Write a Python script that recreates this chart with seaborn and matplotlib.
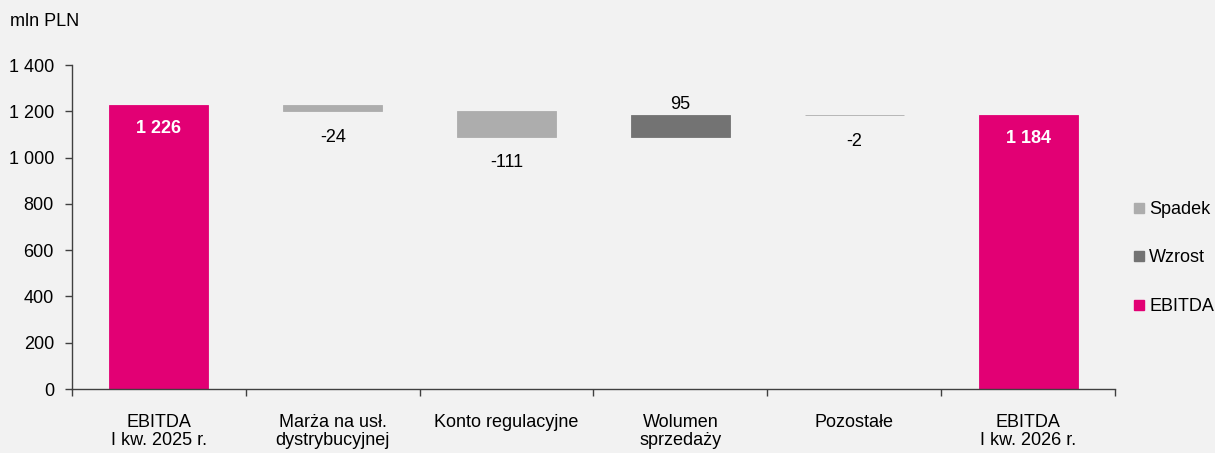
import numpy as np
import pandas as pd
import matplotlib
matplotlib.use("Agg")
import matplotlib.pyplot as plt
import seaborn as sns
from matplotlib.lines import Line2D
from matplotlib.ticker import FuncFormatter

# dane z wykresu (mln PLN)
kategorie = ["EBITDA\nI kw. 2025 r.", "Marża na usł.\ndystrybucyjnej", "Konto regulacyjne",
             "Wolumen\nsprzedaży", "Pozostałe", "EBITDA\nI kw. 2026 r."]
zmiany = [1226, -24, -111, 95, -2, 1184]
czy_suma = [True, False, False, False, False, True]

serie = ["Spadek", "Wzrost", "EBITDA"]
kolory = {"Spadek": "#adadad", "Wzrost": "#737373", "EBITDA": "#e20074"}

# podstawy i wysokości słupków (wodospad)
bazy, wysokosci, typy = [], [], []
narastajaco = 0
for z, s in zip(zmiany, czy_suma):
    if s:
        bazy.append(0)
        wysokosci.append(z)
        typy.append("EBITDA")
        narastajaco = z
    else:
        nowa = narastajaco + z
        bazy.append(min(narastajaco, nowa))
        wysokosci.append(abs(z))
        typy.append("Spadek" if z < 0 else "Wzrost")
        narastajaco = nowa

df = pd.DataFrame({"kat": kategorie, "wys": wysokosci, "baza": bazy, "typ": typy, "zmiana": zmiany})

sns.set_theme(style="white")
plt.rcParams["font.family"] = ["Liberation Sans", "DejaVu Sans"]
plt.rcParams["font.size"] = 13
plt.rcParams["text.color"] = "black"
plt.rcParams["xtick.color"] = "black"
plt.rcParams["ytick.color"] = "black"

tlo = "#f2f2f2"
fig = plt.figure(figsize=(12.15, 4.53), dpi=100, facecolor=tlo)
ax = fig.add_axes([72 / 1215, 64 / 453, (1115 - 72) / 1215, 324 / 453])
ax.set_facecolor(tlo)

for t in serie:
    sub = df[df["typ"] == t]
    sns.barplot(data=sub, x="kat", y="wys", order=kategorie, bottom=sub["baza"].values,
                color=kolory[t], edgecolor=kolory[t], linewidth=0.6, width=0.57,
                errorbar=None, saturation=1, ax=ax)

# etykiety wartości
def fmt(v):
    return f"{v:,.0f}".replace(",", " ")

for i, r in df.iterrows():
    if r["typ"] == "EBITDA":
        ax.annotate(fmt(r["zmiana"]), (i, r["baza"] + r["wys"]), xytext=(0, -17),
                    textcoords="offset points", ha="center", va="center",
                    color="white", fontweight="bold", fontsize=13)
    elif r["zmiana"] < 0:
        ax.annotate(fmt(r["zmiana"]), (i, r["baza"]), xytext=(0, -19),
                    textcoords="offset points", ha="center", va="center",
                    color="black", fontsize=13)
    else:
        ax.annotate(fmt(r["zmiana"]), (i, r["baza"] + r["wys"]), xytext=(0, 1),
                    textcoords="offset points", ha="center", va="bottom",
                    color="black", fontsize=13)

ax.set_xlim(-0.5, len(kategorie) - 0.5)
ax.set_ylim(0, 1400)
ax.set_yticks(np.arange(0, 1401, 200))
ax.yaxis.set_major_formatter(FuncFormatter(lambda v, p: fmt(v)))
ax.set_xlabel("")
ax.set_ylabel("")

for s in ["top", "right"]:
    ax.spines[s].set_visible(False)
for s in ["left", "bottom"]:
    ax.spines[s].set_color("#404040")
    ax.spines[s].set_linewidth(1)

ax.set_xticks(np.arange(-0.5, len(kategorie), 1), minor=True)
ax.tick_params(axis="x", which="major", length=0, pad=18, labelsize=13, labelcolor="black")
ax.tick_params(axis="x", which="minor", length=5, width=1, color="#404040", direction="out", bottom=True)
ax.tick_params(axis="y", which="major", length=5, width=1, color="#404040", direction="out",
               left=True, pad=8, labelsize=13, labelcolor="black")
for lab in ax.get_xticklabels():
    lab.set_linespacing(1.1)

fig.text(10 / 1215, 1 - 22 / 453, "mln PLN", ha="left", va="center", fontsize=13, color="black")

uchwyty = [Line2D([], [], marker="s", linestyle="none", markersize=7.5,
                  markerfacecolor=kolory[t], markeredgecolor=kolory[t]) for t in serie]
fig.legend(uchwyty, serie, loc="center left", bbox_to_anchor=(1133 / 1215, 1 - 258 / 453),
           frameon=False, fontsize=13, handlelength=0.7, handletextpad=0.2,
           labelspacing=1.75, borderpad=0, borderaxespad=0)

fig.savefig("out.png", dpi=100, facecolor=tlo)
